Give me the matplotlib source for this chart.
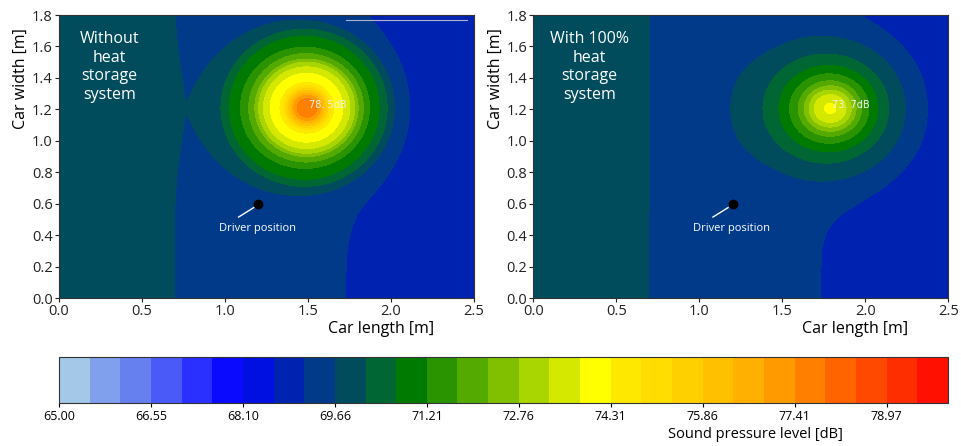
import numpy as np
import matplotlib.pyplot as plt

plt.rcParams['font.family'] = ['Open Sans', 'DejaVu Sans']

# colour scale (29 bins, 65 -> 80 dB)
levels = np.linspace(65.0, 80.0, 30)
bin_colors = ['#a3c8e8', '#80a0ee', '#6680f0', '#4a5af8', '#2a30ff', '#0a0aff',
              '#0010e0', '#0022b0', '#003a88', '#004c5c', '#006633', '#007a00',
              '#2a9300', '#55aa00', '#80c000', '#aad600', '#d4e800', '#ffff00',
              '#ffe800', '#ffdd00', '#ffd000', '#ffc000', '#ffb000', '#ff9a00',
              '#ff8000', '#ff6400', '#ff4800', '#ff2e00', '#ff1000']
cbar_ticks = levels[::3]

# background level along the car length (read from the zone borders)
bg_x = [0.0, 0.69, 1.72, 2.5]
bg_db = [70.0, 69.655, 69.138, 68.75]

# source: centre, and level vs distance from the centre
left_src = (1.495, 1.21)
left_r = [0.0, 0.06, 0.08, 0.095, 0.11, 0.125, 0.14, 0.16, 0.22, 0.26, 0.29, 0.31,
          0.345, 0.385, 0.455, 0.50, 0.555, 0.62, 0.735, 1.0, 3.0]
left_db = [77.1, 76.7, 76.1, 75.4, 74.8, 74.1, 73.4, 72.7, 71.9, 71.1, 70.2, 69.2,
           68.1, 66.8, 65.2, 63.0, 59.2, 55.5, 48.8, 40.0, 20.0]

right_src = (1.79, 1.205)
right_r = [0.0, 0.046, 0.093, 0.121, 0.149, 0.185, 0.234, 0.29, 0.374, 0.43, 0.47,
           0.49, 0.55, 0.6, 0.7, 0.9, 3.0]
right_db = [72.2, 71.9, 71.1, 70.2, 69.2, 68.0, 66.7, 65.1, 62.8, 61.5, 60.0,
            59.0, 57.5, 54.5, 50.0, 42.0, 20.0]

peak_labels = ['78. 5dB', '73. 7dB']
titles = ['Without\nheat\nstorage\nsystem', 'With 100%\nheat\nstorage\nsystem']
driver = (1.2, 0.6)


def campo(src, r_tab, db_tab, stretch):
    x = np.linspace(0, 2.5, 501)
    y = np.linspace(0, 1.8, 361)
    X, Y = np.meshgrid(x, y)
    r = np.sqrt(((X - src[0]) / stretch) ** 2 + (Y - src[1]) ** 2)
    fonte = np.interp(r, r_tab, db_tab)
    fundo = np.interp(X, bg_x, bg_db)
    L = 10 * np.log10(10 ** (fundo / 10) + 10 ** (fonte / 10))
    return X, Y, L


fig = plt.figure(figsize=(9.61, 4.46), dpi=100)
ax1 = fig.add_axes([0.0614, 0.3318, 0.4318, 0.6345])
ax2 = fig.add_axes([0.555, 0.3318, 0.4318, 0.6345])
cax = fig.add_axes([0.0614, 0.0964, 0.925, 0.1031])

dados = [(ax1, left_src, left_r, left_db, 1.0, (1.505, 1.226), titles[0], 0.304),
         (ax2, right_src, right_r, right_db, 1.08, (1.80, 1.226), titles[1], 0.338)]

for i, (ax, src, rt, dbt, st, lab_pos, titulo, tx) in enumerate(dados):
    X, Y, L = campo(src, rt, dbt, st)
    cs = ax.contourf(X, Y, L, levels=levels, colors=bin_colors)
    ax.text(lab_pos[0], lab_pos[1], peak_labels[i], color='#f0f0f0', fontsize=7,
            family='DejaVu Sans', va='center', ha='left')
    ax.text(tx, 1.47, titulo, color='white', fontsize=11.5, ha='center', va='center',
            linespacing=1.2)
    # posição do motorista
    ax.plot(driver[0], driver[1], 'o', color='black', ms=6)
    ax.plot([1.082, 1.173], [0.515, 0.575], color='white', lw=1)
    ax.text(1.193, 0.44, 'Driver position', color='white', fontsize=8,
            ha='center', va='center')
    ax.set_xlim(0, 2.5)
    ax.set_ylim(0, 1.8)
    ax.set_xticks(np.arange(0, 2.51, 0.5))
    ax.set_yticks(np.arange(0, 1.81, 0.2))
    ax.xaxis.set_major_formatter(plt.FormatStrFormatter('%.1f'))
    ax.yaxis.set_major_formatter(plt.FormatStrFormatter('%.1f'))
    ax.tick_params(labelsize=10.5, length=3, width=0.8, pad=1.5, colors='#222222')
    ax.set_xlabel('Car length [m]', fontsize=11.5, x=0.775, labelpad=1)
    ax.set_ylabel('Car width [m]', fontsize=11.5, y=0.775, labelpad=2)
    for s in ax.spines.values():
        s.set_color('#333333')
        s.set_linewidth(0.8)

# linha clara no topo do primeiro gráfico
ax1.plot([1.73, 2.46], [1.767, 1.767], color='#a8b4cc', lw=0.8)

cb = fig.colorbar(cs, cax=cax, orientation='horizontal', ticks=cbar_ticks)
cb.ax.set_xticklabels(['%.2f' % t for t in cbar_ticks])
cb.ax.tick_params(labelsize=9, length=3, width=0.8, pad=2)
cb.outline.set_edgecolor('#333333')
cb.outline.set_linewidth(0.8)
cb.set_label('Sound pressure level [dB]', fontsize=10.5, x=0.783, labelpad=3)

fig.savefig('out.png', dpi=100)
